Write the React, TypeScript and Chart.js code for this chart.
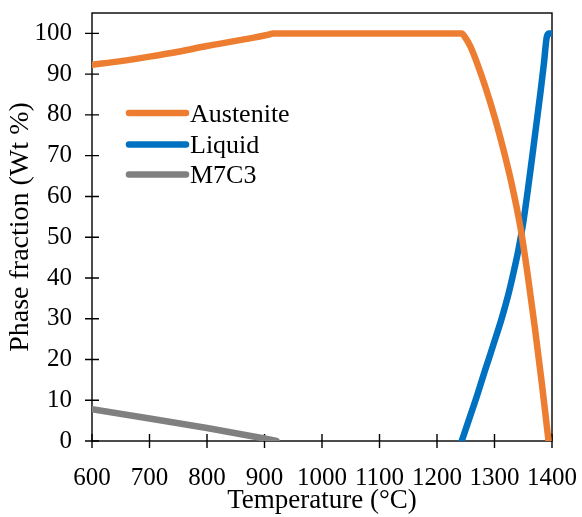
import React, { useEffect, useRef } from "react";
import { Chart, registerables } from "chart.js";

Chart.register(...registerables);

// Temperature (°C) and phase fraction (Wt %)
const austeniteT = [600, 650, 700, 750, 800, 860, 907, 915, 1243, 1249, 1258, 1270, 1285, 1300, 1315, 1330, 1345, 1358, 1370, 1382, 1394];
const austeniteV = [92.3, 93.2, 94.3, 95.5, 96.9, 98.4, 99.7, 100, 100, 99, 96.8, 92.6, 86.5, 79.6, 71.8, 63, 52.5, 40.5, 28, 14.5, 0];

const liquidT = [1243, 1255, 1270, 1283, 1298, 1313, 1324, 1334, 1342, 1350, 1358, 1365, 1372, 1380, 1386, 1391, 1395, 1400];
const liquidV = [0, 5, 11.3, 17.1, 23.6, 30.3, 35.9, 41.9, 47.2, 53.6, 61.6, 69.1, 76.8, 85.6, 92.7, 99.2, 100, 100];

const m7c3T = [600, 700, 800, 900, 921];
const m7c3V = [7.8, 5.5, 3.2, 0.6, 0];

const seriesNames = ["Austenite", "Liquid", "M7C3"];
const seriesColors = ["#ED7D31", "#0070C0", "#808080"];

const xTicks = [600, 700, 800, 900, 1000, 1100, 1200, 1300, 1400];
const yTicks = [0, 10, 20, 30, 40, 50, 60, 70, 80, 90, 100];

const xTitle = "Temperature (°C)";
const yTitle = "Phase fraction (Wt %)";

const FONT = "'Liberation Serif', 'Times New Roman', serif";

const toPoints = (xs: number[], ys: number[]) => xs.map((x, i) => ({ x, y: ys[i] }));

const zeroPad = (s: any) => {
  s.paddingTop = 0;
  s.paddingBottom = 0;
  s.paddingLeft = 0;
  s.paddingRight = 0;
};

const frame = {
  id: "frame",
  beforeDatasetsDraw(chart: any) {
    const { ctx, chartArea } = chart;
    const xs = chart.scales.x;
    const ys = chart.scales.y;
    ctx.save();
    ctx.strokeStyle = "#000";
    ctx.lineWidth = 1.4;
    ctx.strokeRect(chartArea.left, chartArea.top, chartArea.right - chartArea.left, chartArea.bottom - chartArea.top);
    ctx.beginPath();
    xTicks.forEach((v) => {
      const px = xs.getPixelForValue(v);
      ctx.moveTo(px, chartArea.bottom - 7);
      ctx.lineTo(px, chartArea.bottom + 7);
    });
    yTicks.forEach((v) => {
      const py = ys.getPixelForValue(v);
      ctx.moveTo(chartArea.left - 7, py);
      ctx.lineTo(chartArea.left + 7, py);
    });
    ctx.stroke();
    ctx.restore();
  },
};

const legendPlugin = {
  id: "customLegend",
  afterDraw(chart: any) {
    const { ctx, chartArea } = chart;
    const rows = [113, 144.5, 174.5];
    ctx.save();
    ctx.font = `26px ${FONT}`;
    ctx.textBaseline = "alphabetic";
    ctx.textAlign = "left";
    seriesNames.forEach((name, i) => {
      const y = rows[i];
      const x0 = chartArea.left + 37;
      const x1 = chartArea.left + 94;
      ctx.strokeStyle = seriesColors[i];
      ctx.lineWidth = 6.5;
      ctx.lineCap = "round";
      ctx.beginPath();
      ctx.moveTo(x0, y);
      ctx.lineTo(x1, y);
      ctx.stroke();
      ctx.fillStyle = "#000";
      ctx.fillText(name, chartArea.left + 98, y + 8.5);
    });
    ctx.restore();
  },
};

export default function App() {
  const ref = useRef<HTMLCanvasElement | null>(null);

  useEffect(() => {
    document.body.style.margin = "0";
    if (!ref.current) return;
    const mk = (i: number, xs: number[], ys: number[], smooth: boolean) => ({
      label: seriesNames[i],
      data: toPoints(xs, ys),
      borderColor: seriesColors[i],
      backgroundColor: seriesColors[i],
      borderWidth: 6.5,
      borderCapStyle: "round" as const,
      borderJoinStyle: "round" as const,
      pointRadius: 0,
      tension: smooth ? 0.4 : 0,
      cubicInterpolationMode: smooth ? ("monotone" as const) : ("default" as const),
      clip: 0,
    });
    const chart = new Chart(ref.current, {
      type: "line",
      data: {
        datasets: [
          mk(0, austeniteT, austeniteV, true),
          mk(1, liquidT, liquidV, true),
          mk(2, m7c3T, m7c3V, false),
        ],
      },
      options: {
        responsive: false,
        animation: false,
        devicePixelRatio: 1,
        layout: { padding: { top: 13, right: 30, left: 0, bottom: 0 } },
        plugins: { legend: { display: false }, tooltip: { enabled: false } },
        scales: {
          x: {
            type: "linear",
            min: 600,
            max: 1400,
            grid: { display: false, drawTicks: false },
            border: { display: false },
            afterBuildTicks: (s: any) => {
              s.min = 600;
              s.max = 1400;
              s.ticks = xTicks.map((v) => ({ value: v }));
            },
            afterFit: (s: any) => {
              s.height = 76;
              zeroPad(s);
            },
            ticks: {
              color: "#000",
              font: { family: FONT, size: 25 },
              padding: 22,
              maxRotation: 0,
              autoSkip: false,
              callback: (v: any) => String(v),
            },
            title: {
              display: true,
              text: xTitle,
              color: "#000",
              font: { family: FONT, size: 27 },
              padding: { top: 0, bottom: 0 },
            },
          },
          y: {
            type: "linear",
            min: 0,
            max: 105,
            grid: { display: false, drawTicks: false },
            border: { display: false },
            afterBuildTicks: (s: any) => {
              s.min = 0;
              s.max = 105;
              s.ticks = yTicks.map((v) => ({ value: v }));
            },
            afterFit: (s: any) => {
              s.width = 92;
              zeroPad(s);
            },
            ticks: {
              color: "#000",
              font: { family: FONT, size: 25 },
              padding: 20,
              autoSkip: false,
              callback: (v: any) => String(v),
            },
            title: {
              display: true,
              text: yTitle,
              color: "#000",
              font: { family: FONT, size: 28 },
              padding: { top: 4, bottom: 0 },
            },
          },
        },
      },
      plugins: [frame, legendPlugin],
    });
    return () => chart.destroy();
  }, []);

  return (
    <div style={{ width: 582, height: 517 }}>
      <canvas ref={ref} width={582} height={517} style={{ display: "block" }} />
    </div>
  );
}
